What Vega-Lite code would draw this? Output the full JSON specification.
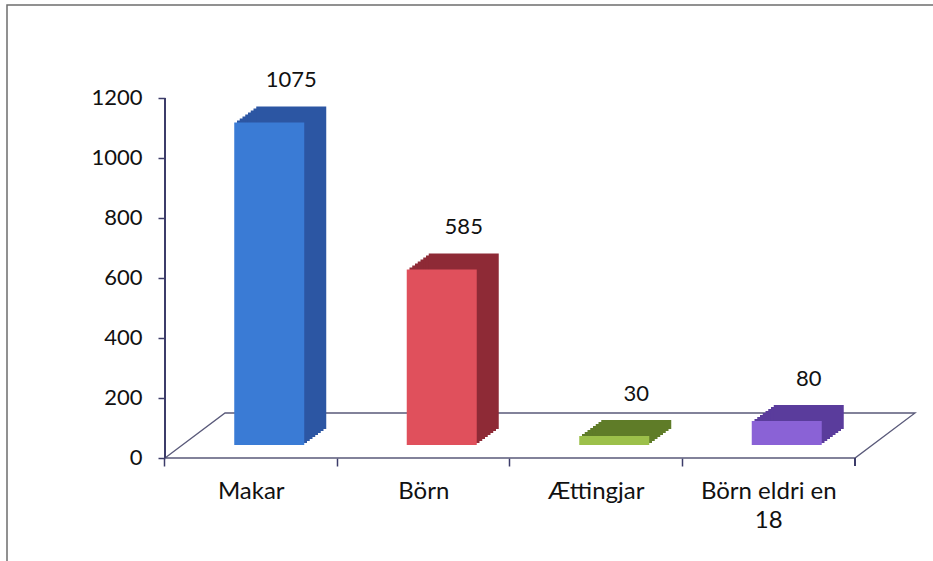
{
  "$schema": "https://vega.github.io/schema/vega-lite/v6.json",
  "autosize": "none",
  "padding": {"left": 7, "top": 5, "right": 0, "bottom": 0},
  "width": 930,
  "height": 560,
  "background": "white",
  "config": {
    "view": {"stroke": "#6e6e6e", "strokeWidth": 1.5},
    "font": "Lato"
  },
  "datasets": {
    "bars": [
      {"kategori": "Makar", "fjoldi": 1075},
      {"kategori": "Börn", "fjoldi": 585},
      {"kategori": "Ættingjar", "fjoldi": 30},
      {"kategori": "Börn eldri en 18", "fjoldi": 80}
    ],
    "golf": [
      {"i": 0, "u": 0, "v": 0},
      {"i": 1, "u": 0.348, "v": 150},
      {"i": 2, "u": 4.348, "v": 150},
      {"i": 3, "u": 4, "v": 0},
      {"i": 4, "u": 0, "v": 0}
    ]
  },
  "layer": [
    {
      "data": {"name": "golf"},
      "layer": [
        {
          "mark": {"type": "line", "color": "#5a5a7a", "strokeWidth": 1.3},
          "encoding": {
            "x": {"field": "u", "type": "quantitative", "scale": {"domain": [-0.915942, 4.475362], "nice": false, "zero": false}, "axis": null},
            "y": {"field": "v", "type": "quantitative", "scale": {"domain": [-356.667, 1510], "nice": false, "zero": false},
                  "axis": {"values": [0, 200, 400, 600, 800, 1000, 1200], "orient": "left", "offset": -158, "domain": false, "grid": false, "format": "d", "tickSize": 7, "tickColor": "#3c3c6a", "tickWidth": 1.5, "labelFont": "Lato", "labelFontSize": 22, "labelColor": "#111111", "labelPadding": 16, "title": null}},
            "order": {"field": "i", "type": "quantitative"}
          }
        },
        {
          "mark": {"type": "rule", "color": "#3c3c6a", "strokeWidth": 1.5},
          "encoding": {
            "x": {"datum": 0, "type": "quantitative", "axis": null},
            "y": {"datum": 0, "type": "quantitative",
                  "axis": {"values": [0, 200, 400, 600, 800, 1000, 1200], "orient": "left", "offset": -158, "domain": false, "grid": false, "format": "d", "tickSize": 7, "tickColor": "#3c3c6a", "tickWidth": 1.5, "labelFont": "Lato", "labelFontSize": 22, "labelColor": "#111111", "labelPadding": 16, "title": null}},
            "y2": {"datum": 1200}
          }
        },
        {
          "mark": {"type": "rule", "color": "#3c3c6a", "strokeWidth": 1.5},
          "encoding": {
            "x": {"datum": 4, "type": "quantitative", "axis": null},
            "y": {"datum": 0, "type": "quantitative",
                  "axis": {"values": [0, 200, 400, 600, 800, 1000, 1200], "orient": "left", "offset": -158, "domain": false, "grid": false, "format": "d", "tickSize": 7, "tickColor": "#3c3c6a", "tickWidth": 1.5, "labelFont": "Lato", "labelFontSize": 22, "labelColor": "#111111", "labelPadding": 16, "title": null}},
            "y2": {"datum": -26.667}
          }
        }
      ]
    },
    {
      "data": {"name": "bars"},
      "encoding": {
        "x": {
          "field": "kategori", "type": "nominal", "sort": null,
          "scale": {"paddingInner": 0, "paddingOuter": 0.695652, "align": 0.658333},
          "axis": {"orient": "bottom", "offset": -107, "domain": false, "grid": false, "ticks": true, "bandPosition": 0, "tickSize": 8, "tickColor": "#3c3c6a", "tickWidth": 1.5, "labelAngle": 0, "labelFont": "Lato", "labelFontSize": 24, "labelColor": "#111111", "labelPadding": 13, "labelLineHeight": 29, "labelExpr": "datum.label == 'Börn eldri en 18' ? ['Börn eldri en', '18'] : datum.label", "title": null}
        },
        "y": {
          "field": "fjoldi", "type": "quantitative",
          "scale": {"domain": [-356.667, 1510], "nice": false, "zero": false},
          "axis": {"values": [0, 200, 400, 600, 800, 1000, 1200], "orient": "left", "offset": -158, "domain": false, "grid": false, "format": "d", "tickSize": 7, "tickColor": "#3c3c6a", "tickWidth": 1.5, "labelFont": "Lato", "labelFontSize": 22, "labelColor": "#111111", "labelPadding": 16, "title": null}
        }
      },
      "layer": [
        {"mark": {"type": "bar", "width": 70, "xOffset": 20.75, "yOffset": -15, "y2Offset": -15},
         "encoding": {"y2": {"datum": 0}, "fill": {"field": "kategori", "type": "nominal", "legend": null, "scale": {"domain": ["Makar", "Börn", "Ættingjar", "Börn eldri en 18"], "range": ["#2c56a3", "#8e2a36", "#5f7c28", "#5a3c9c"]}}}},
        {"mark": {"type": "bar", "width": 70, "xOffset": 23.5, "yOffset": -17, "y2Offset": -17},
         "encoding": {"y2": {"datum": 0}, "fill": {"field": "kategori", "type": "nominal", "legend": null, "scale": {"domain": ["Makar", "Börn", "Ættingjar", "Börn eldri en 18"], "range": ["#2c56a3", "#8e2a36", "#5f7c28", "#5a3c9c"]}}}},
        {"mark": {"type": "bar", "width": 70, "xOffset": 26.25, "yOffset": -19, "y2Offset": -19},
         "encoding": {"y2": {"datum": 0}, "fill": {"field": "kategori", "type": "nominal", "legend": null, "scale": {"domain": ["Makar", "Börn", "Ættingjar", "Börn eldri en 18"], "range": ["#2c56a3", "#8e2a36", "#5f7c28", "#5a3c9c"]}}}},
        {"mark": {"type": "bar", "width": 70, "xOffset": 29, "yOffset": -21, "y2Offset": -21},
         "encoding": {"y2": {"datum": 0}, "fill": {"field": "kategori", "type": "nominal", "legend": null, "scale": {"domain": ["Makar", "Börn", "Ættingjar", "Börn eldri en 18"], "range": ["#2c56a3", "#8e2a36", "#5f7c28", "#5a3c9c"]}}}},
        {"mark": {"type": "bar", "width": 70, "xOffset": 31.75, "yOffset": -23, "y2Offset": -23},
         "encoding": {"y2": {"datum": 0}, "fill": {"field": "kategori", "type": "nominal", "legend": null, "scale": {"domain": ["Makar", "Börn", "Ættingjar", "Börn eldri en 18"], "range": ["#2c56a3", "#8e2a36", "#5f7c28", "#5a3c9c"]}}}},
        {"mark": {"type": "bar", "width": 70, "xOffset": 34.5, "yOffset": -25, "y2Offset": -25},
         "encoding": {"y2": {"datum": 0}, "fill": {"field": "kategori", "type": "nominal", "legend": null, "scale": {"domain": ["Makar", "Börn", "Ættingjar", "Börn eldri en 18"], "range": ["#2c56a3", "#8e2a36", "#5f7c28", "#5a3c9c"]}}}},
        {"mark": {"type": "bar", "width": 70, "xOffset": 37.25, "yOffset": -27, "y2Offset": -27},
         "encoding": {"y2": {"datum": 0}, "fill": {"field": "kategori", "type": "nominal", "legend": null, "scale": {"domain": ["Makar", "Börn", "Ættingjar", "Börn eldri en 18"], "range": ["#2c56a3", "#8e2a36", "#5f7c28", "#5a3c9c"]}}}},
        {"mark": {"type": "bar", "width": 70, "xOffset": 40, "yOffset": -29, "y2Offset": -29},
         "encoding": {"y2": {"datum": 0}, "fill": {"field": "kategori", "type": "nominal", "legend": null, "scale": {"domain": ["Makar", "Börn", "Ættingjar", "Börn eldri en 18"], "range": ["#2c56a3", "#8e2a36", "#5f7c28", "#5a3c9c"]}}}},
        {"mark": {"type": "bar", "width": 70, "xOffset": 18, "yOffset": -13, "y2Offset": -13},
         "encoding": {"y2": {"datum": 0}, "color": {"field": "kategori", "type": "nominal", "legend": null, "scale": {"domain": ["Makar", "Börn", "Ættingjar", "Börn eldri en 18"], "range": ["#3a7bd5", "#e0505c", "#9cc04a", "#8a62d6"]}}}},
        {
          "mark": {"type": "text", "xOffset": 40, "yOffset": -55, "font": "Lato", "fontSize": 22, "color": "#111111", "baseline": "middle", "align": "center"},
          "encoding": {"text": {"field": "fjoldi", "type": "quantitative"}}
        }
      ]
    }
  ],
  "resolve": {"scale": {"x": "independent"}, "axis": {"x": "independent"}}
}
